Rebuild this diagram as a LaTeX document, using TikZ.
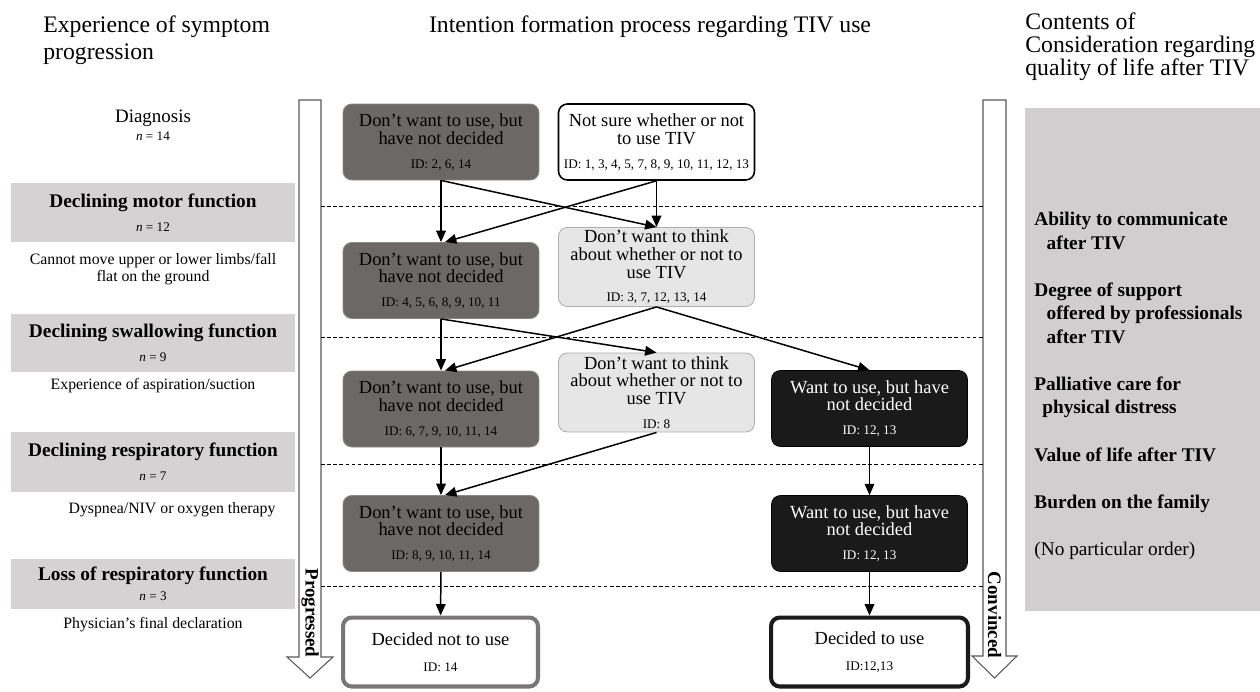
\documentclass[tikz,border=0pt]{standalone}
\usepackage{fontspec}
\setmainfont{Liberation Serif}
\usetikzlibrary{positioning,arrows.meta}
\definecolor{darkbox}{RGB}{108,104,104}
\definecolor{darkline}{RGB}{140,136,136}
\definecolor{lightbox}{RGB}{230,230,230}
\definecolor{lightline}{RGB}{175,175,175}
\definecolor{blackbox}{RGB}{26,26,26}
\definecolor{stagegray}{RGB}{212,210,211}
\definecolor{panelgray}{RGB}{208,206,207}
\definecolor{declgray}{RGB}{120,118,118}
\newcommand{\idfont}{\fontsize{7.5}{9}\selectfont}
\newcommand{\nfont}{\fontsize{7.5}{9}\selectfont\mdseries}

\begin{document}
\begin{tikzpicture}[x=0.02cm,y=-0.02cm,inner sep=0pt,
  state/.style={rounded corners=5pt,minimum width=3.92cm,minimum height=1.52cm,
    align=center,font=\fontsize{10.5}{10}\selectfont},
  wantnot/.style={state,fill=darkbox,draw=darkline,line width=0.5pt},
  unsure/.style={state,fill=white,draw=black,line width=0.9pt},
  nothink/.style={state,fill=lightbox,draw=lightline,line width=0.5pt,minimum height=1.58cm},
  want/.style={state,fill=blackbox,draw=black,text=white},
  decided/.style={state,fill=white,line width=2.3pt,minimum width=3.9cm,minimum height=1.38cm},
  stage/.style={fill=stagegray,minimum width=5.68cm,align=center,
    font=\fontsize{11}{13.6}\selectfont\bfseries},
  symptom/.style={align=center,font=\fontsize{9}{9.6}\selectfont},
  title/.style={align=left,font=\fontsize{13.5}{15.9}\selectfont},
  flow/.style={-{Triangle[length=6.5pt,width=5.5pt]},line width=0.85pt},
  sepline/.style={dashed,dash pattern=on 2pt off 1.5pt,line width=0.45pt},
  bigarrow/.style={draw=black!65,fill=white,line width=0.6pt}]
  \useasboundingbox (0,0) rectangle (1260,691);

  % column titles
  \node[title,anchor=north west] (tl) at (43,15) {Experience of symptom\\progression};
  \node[title,anchor=north] (tm) at (650,15) {Intention formation process regarding TIV use};
  \node[title,anchor=north west,font=\fontsize{13.5}{13.3}\selectfont] (tr) at (1025,12)
    {Contents of\\Consideration regarding\\quality of life after TIV};

  % symptom progression
  \node[align=center,font=\fontsize{10.8}{10.2}\selectfont] (s0) at (153,125)
    {Diagnosis\\{\nfont\textit{n} = 14}};
  \node[stage,minimum height=1.18cm] (s1) at (153,212.5)
    {Declining motor function\\{\nfont\textit{n} = 12}};
  \node[symptom] (t1) at (153,269) {Cannot move upper or lower limbs/fall\\flat on the ground};
  \node[stage,minimum height=1.16cm] (s2) at (153,343)
    {Declining swallowing function\\{\nfont\textit{n} = 9}};
  \node[symptom] (t2) at (153,386) {Experience of aspiration/suction};
  \node[stage,minimum height=1.2cm] (s3) at (153,462)
    {Declining respiratory function\\{\nfont\textit{n} = 7}};
  \node[symptom] (t3) at (172,510) {Dyspnea/NIV or oxygen therapy};
  \node[stage,minimum height=1.0cm] (s4) at (153,584)
    {Loss of respiratory function\\[-2.3pt]{\nfont\textit{n} = 3}};
  \node[symptom] (t4) at (153,625) {Physician’s final declaration};

  % time arrows
  \draw[bigarrow] (299,100) -- (321,100) -- (321,657) -- (333,657) -- (310,678)
    -- (287,657) -- (299,657) -- cycle;
  \draw[bigarrow] (983,100) -- (1006,100) -- (1006,656) -- (1017,656) -- (994.5,678)
    -- (972,656) -- (983,656) -- cycle;
  \node[rotate=-90,font=\fontsize{10.8}{12}\selectfont\bfseries] (pg) at (310,613) {Progressed};
  \node[rotate=-90,font=\fontsize{10.8}{12}\selectfont\bfseries] (cv) at (994.5,615) {Convinced};

  % stage separators
  \foreach \y in {206,337,464,586}
    \draw[sepline] (321,\y) -- (983,\y);

  % intention states
  \node[wantnot] (a1) at (441,142) {Don’t want to use, but\\have not decided\\[3.6pt]{\idfont ID: 2, 6, 14}};
  \node[unsure] (b1) at (656.5,142) {Not sure whether or not\\to use TIV\\[3.6pt]{\idfont ID: 1, 3, 4, 5, 7, 8, 9, 10, 11, 12, 13}};
  \node[wantnot] (a2) at (441,280.5) {Don’t want to use, but\\have not decided\\[3.6pt]{\idfont ID: 4, 5, 6, 8, 9, 10, 11}};
  \node[nothink] (c2) at (656.5,267) {Don’t want to think\\about whether or not to\\use TIV\\[3.6pt]{\idfont ID: 3, 7, 12, 13, 14}};
  \node[wantnot] (a3) at (441,409) {Don’t want to use, but\\have not decided\\[3.6pt]{\idfont ID: 6, 7, 9, 10, 11, 14}};
  \node[nothink] (c3) at (656.5,392.5) {Don’t want to think\\about whether or not to\\use TIV\\[3.6pt]{\idfont ID: 8}};
  \node[want] (d3) at (869.5,408.5) {Want to use, but have\\not decided\\[3.6pt]{\idfont ID: 12, 13}};
  \node[wantnot] (a4) at (441,533.5) {Don’t want to use, but\\have not decided\\[3.6pt]{\idfont ID: 8, 9, 10, 11, 14}};
  \node[want] (d4) at (869.5,533.5) {Want to use, but have\\not decided\\[3.6pt]{\idfont ID: 12, 13}};
  \node[decided,draw=declgray] (e5) at (440.5,652) {Decided not to use\\[5pt]{\idfont ID: 14}};
  \node[decided,draw=blackbox,minimum width=3.94cm] (d5) at (869.5,652) {Decided to use\\[5pt]{\idfont ID:12,13}};

  \draw[flow] (a1) -- (a2);
  \draw[flow] (a1.south) -- (c2.north);
  \draw[flow] (b1) -- (c2);
  \draw[flow] (b1.south) -- ([xshift=0.08cm]a2.north);
  \draw[flow] (a2) -- (a3);
  \draw[flow] (a2.south) -- (c3.north);
  \draw[flow] (c2.south) -- ([xshift=0.08cm]a3.north);
  \draw[flow] (c2.south) -- (d3.north);
  \draw[flow] (a3) -- (a4);
  \draw[flow] (c3.south) -- ([xshift=0.08cm]a4.north);
  \draw[flow] (a4) -- (e5);
  \draw[flow] (d3) -- (d4);
  \draw[flow] (d4) -- (d5);

  % considerations
  \fill[panelgray] (1025,108) rectangle (1262,611);
  \node[anchor=north west,align=left,font=\fontsize{11}{13.3}\selectfont] (qol) at (1034,212)
    {\textbf{Ability to communicate}\\\hspace*{7pt}\textbf{after TIV}\\[13.6pt]
     \textbf{Degree of support}\\\hspace*{7pt}\textbf{offered by professionals}\\\hspace*{7pt}\textbf{after TIV}\\[13.6pt]
     \textbf{Palliative care for}\\\hspace*{4.5pt}\textbf{physical distress}\\[13.6pt]
     \textbf{Value of life after TIV}\\[13.6pt]
     \textbf{Burden on the family}\\[13.6pt]
     (No particular order)};
\end{tikzpicture}
\end{document}
